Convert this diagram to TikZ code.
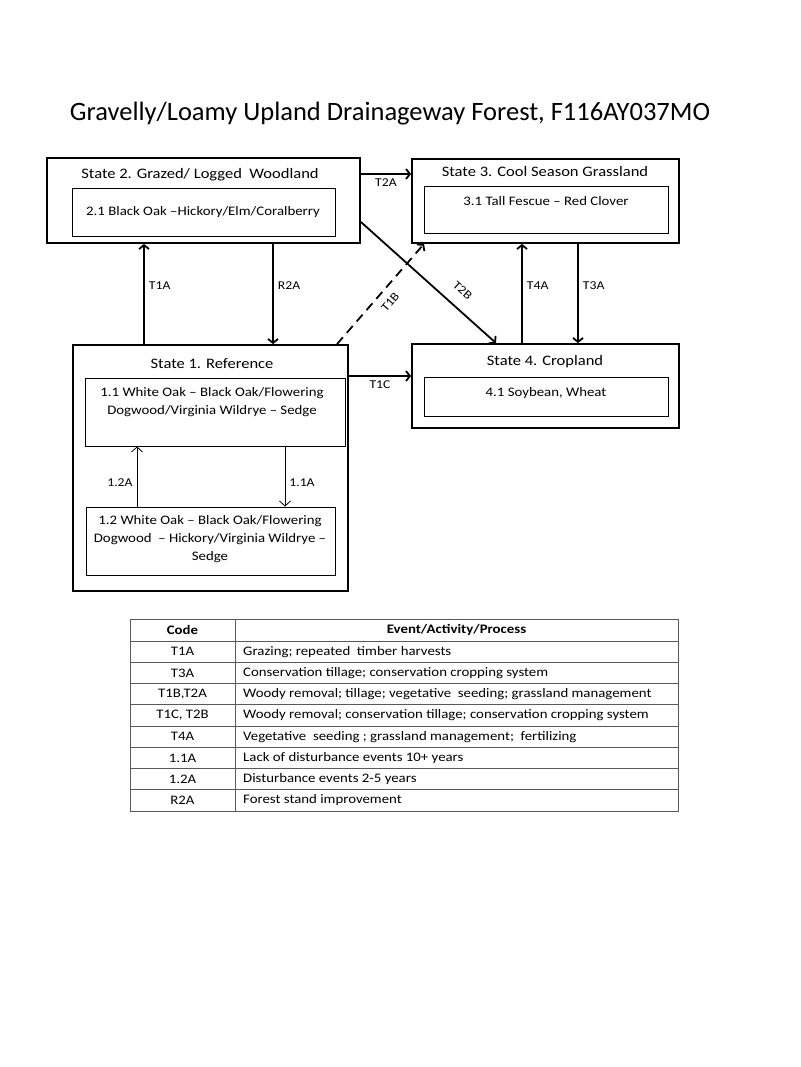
\documentclass[tikz,border=0pt]{standalone}
\usepackage{fontspec}
\setmainfont{Carlito}[FakeStretch=1.14]
\newfontfamily\titlefont{Carlito}
\usetikzlibrary{arrows.meta,positioning}

\begin{document}
\begin{tikzpicture}[x=1pt,y=1pt,yscale=-1,xscale=1,
		statebox/.style={draw, line width=1.8pt, inner sep=0pt},
		phasebox/.style={draw, line width=0.9pt, inner sep=0pt},
		statetitle/.style={font=\fontsize{14.5}{18}\selectfont, inner sep=0pt},
		phasetext/.style={font=\fontsize{13}{18}\selectfont, align=center, inner sep=0pt},
		arr/.style={line width=1.8pt, -{Straight Barb[length=4pt,width=10pt]}},
		thinarr/.style={line width=0.8pt, -{Straight Barb[length=5pt,width=11pt]}},
		lbl/.style={font=\fontsize{12}{14}\selectfont, inner sep=4pt},
		tabline/.style={line width=0.8pt, black!65},
		cell/.style={font=\fontsize{13}{14}\selectfont, inner sep=0pt}]
		% Page of 800 x 1067
		\fill[white] (0,0) rectangle (800,1067);
		\useasboundingbox (0,0) rectangle (800,1067);

		% Title
		\node[font=\titlefont\fontsize{26.5}{30}\selectfont, inner sep=0pt] (title) at (390,114) {Gravelly/Loamy Upland Drainageway Forest, F116AY037MO};

		% State boxes
		\node[statebox, minimum width=313, minimum height=85] (s2) at (203.5,200.5) {};
		\node[statebox, minimum width=267, minimum height=84] (s3) at (545.5,201) {};
		\node[statebox, minimum width=267, minimum height=84] (s4) at (545.5,386) {};
		\node[statebox, minimum width=275, minimum height=246] (s1) at (210.5,468) {};

		% Community boxes inside the states
		\node[phasebox, minimum width=263, minimum height=48] (s2in) at (203.5,212) {};
		\node[phasebox, minimum width=244, minimum height=47] (s3in) at (546,209.5) {};
		\node[phasebox, minimum width=244, minimum height=39] (s4in) at (546,396.5) {};
		\node[phasebox, minimum width=260, minimum height=68] (s11) at (215,412) {};
		\node[phasebox, minimum width=249, minimum height=68] (s12) at (210.5,541) {};

		% State titles
		\node[statetitle] (s2t) at (200,175) {State 2. Grazed/ Logged\ \ Woodland};
		\node[statetitle] (s3t) at (545,172) {State 3. Cool Season Grassland};
		\node[statetitle] (s4t) at (545,362) {State 4. Cropland};
		\node[statetitle] (s1t) at (212,364) {State 1. Reference};

		% Community texts
		\node[phasetext] (s2txt) at (203,212) {2.1 Black Oak --Hickory/Elm/Coralberry};
		\node[phasetext] (s3txt) at (546,201) {3.1 Tall Fescue -- Red Clover};
		\node[phasetext] (s4txt) at (546,393) {4.1 Soybean, Wheat};
		\node[phasetext] (s11txt) at (212,402) {1.1 White Oak -- Black Oak/Flowering\\Dogwood/Virginia Wildrye -- Sedge};
		\node[phasetext] (s12txt) at (210,539) {1.2 White Oak -- Black Oak/Flowering\\Dogwood\ \ -- Hickory/Virginia Wildrye --\\Sedge};

		% Transitions between states
		\draw[arr] ([xshift=-66.5]s1.north) -- ([xshift=-59.5]s2.south) node[lbl, pos=0.58, right] (t1a) {T1A};
		\draw[arr] ([xshift=69.5]s2.south) -- ([xshift=62.5]s1.north) node[lbl, pos=0.42, right] (r2a) {R2A};
		\draw[arr] ([yshift=-26.5]s2.east) -- ([yshift=-27]s3.west) node[lbl, midway, below] (t2a) {T2A};
		\draw[arr] ([yshift=21.5]s2.east) -- ([xshift=-49.5]s4.north) node[lbl, inner sep=12pt, pos=0.67, rotate=-41.7, anchor=south] (t2b) {T2B};
		\draw[arr, dashed, dash pattern=on 9pt off 6pt] ([xshift=126.5]s1.north) -- ([xshift=-121.5]s3.south) node[lbl, inner sep=8pt, pos=0.5, rotate=49.5, anchor=north] (t1b) {T1B};
		\draw[arr] ([xshift=-23.5]s4.north) -- ([xshift=-23.5]s3.south) node[lbl, pos=0.58, right] (t4a) {T4A};
		\draw[arr] ([xshift=32.5]s3.south) -- ([xshift=32.5]s4.north) node[lbl, pos=0.42, right] (t3a) {T3A};
		\draw[arr] ([yshift=-92]s1.east) -- ([yshift=-10]s4.west) node[lbl, midway, below] (t1c) {T1C};

		% Pathways inside State 1
		\draw[thinarr] ([xshift=-73.5]s12.north) -- ([xshift=-78]s11.south) node[lbl, pos=0.4, left] (p12a) {1.2A};
		\draw[thinarr] ([xshift=70]s11.south) -- ([xshift=74.5]s12.north) node[lbl, pos=0.6, right] (p11a) {1.1A};

		% Legend table
		\draw[tabline] (130,619) rectangle (678,811);
		\draw[tabline] (235,619) -- (235,811);
		\foreach \i in {1,...,8}
			\draw[tabline] (130,{619.75+21.25*\i}) -- (678,{619.75+21.25*\i});
		\node[cell, font=\fontsize{13}{14}\selectfont\bfseries] (hcode) at (182.5,630) {Code};
		\node[cell, font=\fontsize{13}{14}\selectfont\bfseries] (hact) at (456.5,630) {Event/Activity/Process};
		\foreach \code/\act [count=\i] in {
				T1A/{Grazing; repeated\ \ timber harvests},
				T3A/{Conservation tillage; conservation cropping system},
				{T1B,T2A}/{Woody removal; tillage; vegetative\ \ seeding; grassland management},
				{T1C, T2B}/{Woody removal; conservation tillage; conservation cropping system},
				T4A/{Vegetative\ \ seeding ; grassland management;\ \ fertilizing},
				1.1A/{Lack of disturbance events 10+ years},
				1.2A/{Disturbance events 2-5 years},
				R2A/{Forest stand improvement}} {
			\node[cell] (code\i) at (182.5,{630.4+21.25*\i}) {\code};
			\node[cell, anchor=west] (act\i) at (243,{630.4+21.25*\i}) {\act};
		}
	\end{tikzpicture}
\end{document}
